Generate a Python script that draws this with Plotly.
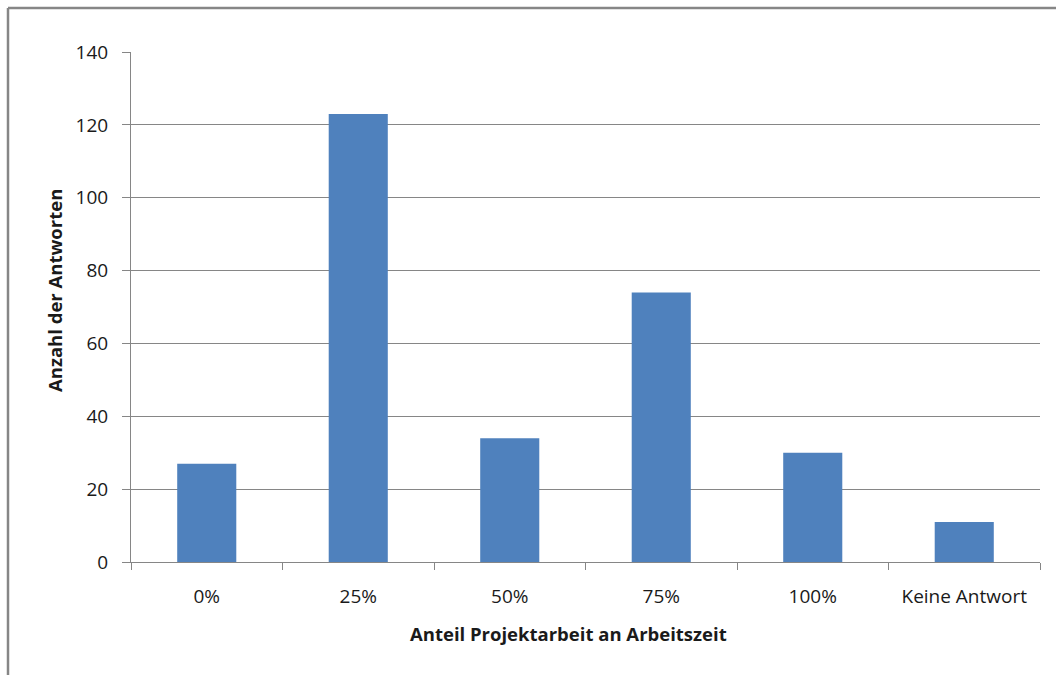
import plotly.graph_objects as go

categories = ["0%", "25%", "50%", "75%", "100%", "Keine Antwort"]
values = [27, 123, 34, 74, 30, 11]
y_ticks = [0, 20, 40, 60, 80, 100, 120, 140]

W, H = 1056, 675
L, R, T, B = 131, 16, 52, 113
pw, ph = W - L - R, H - T - B
grid = "#868686"
font = "Open Sans"
txt = "#1a1a1a"

fig = go.Figure(go.Bar(x=categories, y=values, marker=dict(color="#4F81BD", line=dict(width=0))))

fig.update_layout(
    width=W, height=H,
    margin=dict(l=L, r=R, t=T, b=B, pad=0),
    paper_bgcolor="white", plot_bgcolor="white",
    bargap=0.61, showlegend=False,
    font=dict(family=font, size=19, color=txt),
)
fig.update_xaxes(
    type="category", tickson="boundaries", ticks="outside", ticklen=7, tickcolor=grid,
    showline=True, linecolor=grid, linewidth=1, showgrid=False,
    tickfont=dict(family=font, size=19, color=txt), ticklabelstandoff=17,
)
fig.update_yaxes(
    range=[0, 140], tickvals=y_ticks, ticks="outside", ticklen=8, tickcolor=grid,
    showline=True, linecolor=grid, linewidth=1, showgrid=True, gridcolor=grid, gridwidth=1,
    zeroline=False,
    tickfont=dict(family=font, size=19, color=txt), ticklabelstandoff=10,
)
# axis titles
fig.add_annotation(text="<b>Anteil Projektarbeit an Arbeitszeit</b>", xref="paper", yref="paper",
                   x=(568 - L) / pw, y=-(633 - (H - B)) / ph, showarrow=False,
                   xanchor="center", yanchor="middle", font=dict(family=font, size=18.5, color=txt))
fig.add_annotation(text="<b>Anzahl der Antworten</b>", xref="paper", yref="paper",
                   x=(54 - L) / pw, y=1 - (291 - T) / ph, showarrow=False, textangle=-90,
                   xanchor="center", yanchor="middle", font=dict(family=font, size=18.5, color=txt))
# outer chart border (left and top visible)
fig.add_shape(type="line", xref="paper", yref="paper",
              x0=(8 - L) / pw, x1=(W + 10 - L) / pw, y0=1 + (T - 8) / ph, y1=1 + (T - 8) / ph,
              line=dict(color=grid, width=2.5))
fig.add_shape(type="line", xref="paper", yref="paper",
              x0=(8 - L) / pw, x1=(8 - L) / pw, y0=1 + (T - 8) / ph, y1=-(B + 10) / ph,
              line=dict(color=grid, width=2.5))

fig.write_html("out.html")
